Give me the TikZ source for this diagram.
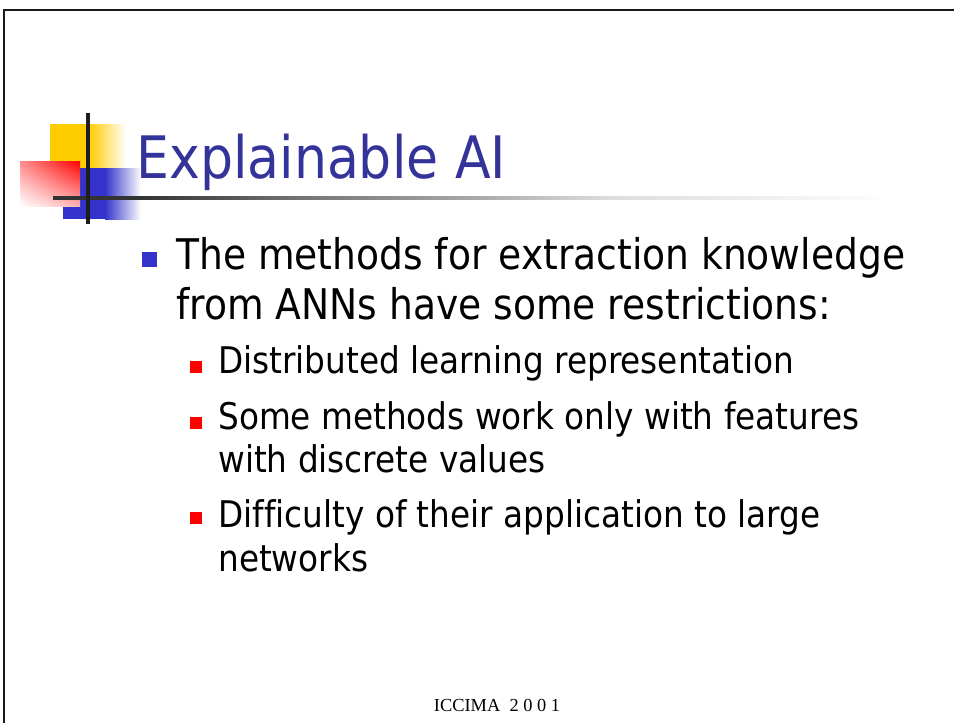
\documentclass[tikz,border=0pt]{standalone}
\usepackage{fontspec}
\usetikzlibrary{shadings}
\setmainfont{DejaVu Sans}[FakeStretch=0.89, Ligatures=NoCommon]
\newfontfamily\footfont{Liberation Serif}
\definecolor{titleblue}{HTML}{333399}
\definecolor{markblue}{HTML}{3333CC}
\definecolor{markyellow}{HTML}{FFCC00}
\definecolor{markred}{HTML}{FF0000}
\definecolor{darkrule}{HTML}{1E1E1E}
\definecolor{gA}{HTML}{333333}
\definecolor{gB}{HTML}{777777}
\definecolor{gC}{HTML}{AAAAAA}
\definecolor{gD}{HTML}{DDDDDD}
\definecolor{gE}{HTML}{FCFCFC}
\tikzset{
  slidetitle/.style={anchor=base west, inner sep=0pt, text=titleblue,
    font=\fontsize{44.6}{52}\selectfont},
  bodytext/.style={anchor=base west, inner sep=0pt,
    font=\fontsize{32.2}{38}\selectfont},
  subtext/.style={anchor=base west, inner sep=0pt,
    font=\fontsize{28}{34}\selectfont},
  foottext/.style={anchor=base, inner sep=0pt,
    font=\footfont\fontsize{14}{16}\selectfont},
  frameline/.style={line width=1.5pt, draw=black!90},
}
\begin{document}
\begin{tikzpicture}[x=0.7619pt,y=-0.7619pt]
\useasboundingbox (0,0) rectangle (954,722);
\fill[white] (0,0) rectangle (954,722);

% slide frame (runs off the right and bottom edges)
\draw[frameline] (4.3,740) -- (4.3,10) -- (970,10);

% title ornament: yellow block with fade
\fill[markyellow] (50,124) rectangle (89,168);
\shade[left color=markyellow, right color=white] (89,124) rectangle (126,168);
% blue block with fade
\fill[markblue] (63,168) rectangle (105,219);
\shade[left color=markblue, right color=white] (105,168) rectangle (141,219);
% red block, fading towards its lower left corner
\shade[upper right=markred, upper left=markred!45!white,
       lower right=markred!30!white, lower left=white] (20,161) rectangle (80,206);

% title rule, fading out to the right
\fill[gA] (53,196.3) rectangle (140,199.8);
\shade[left color=gA, right color=gB] (140,196.3) rectangle (310,199.8);
\shade[left color=gB, right color=gC] (310,196.3) rectangle (480,199.8);
\shade[left color=gC, right color=gD] (480,196.3) rectangle (610,199.8);
\shade[left color=gD, right color=gE] (610,196.3) rectangle (878,199.8);
% vertical cross bar
\fill[darkrule] (86,113) rectangle (90,224);

% title
\node[slidetitle] (title) at (136,178) {Explainable AI};

% first level bullet
\fill[markblue] (142,252) rectangle (157,267);
\node[bodytext] (l1) at (176,269) {The methods for extraction knowledge};
\node[bodytext] (l2) at (176,319) {from ANNs have some restrictions:};

% second level bullets
\fill[markred] (190,361) rectangle (202,373);
\node[subtext] (s1) at (218,373) {Distributed learning representation};

\fill[markred] (190,417) rectangle (202,429);
\node[subtext] (s2a) at (218,429) {Some methods work only with features};
\node[subtext] (s2b) at (218,472) {with discrete values};

\fill[markred] (190,512) rectangle (202,524);
\node[subtext] (s3a) at (218,527) {Difficulty of their application to large};
\node[subtext] (s3b) at (218,571) {networks};

% footer
\node[foottext] (foot) at (497,711) {ICCIMA\ \ 2 0 0 1};
\end{tikzpicture}
\end{document}
